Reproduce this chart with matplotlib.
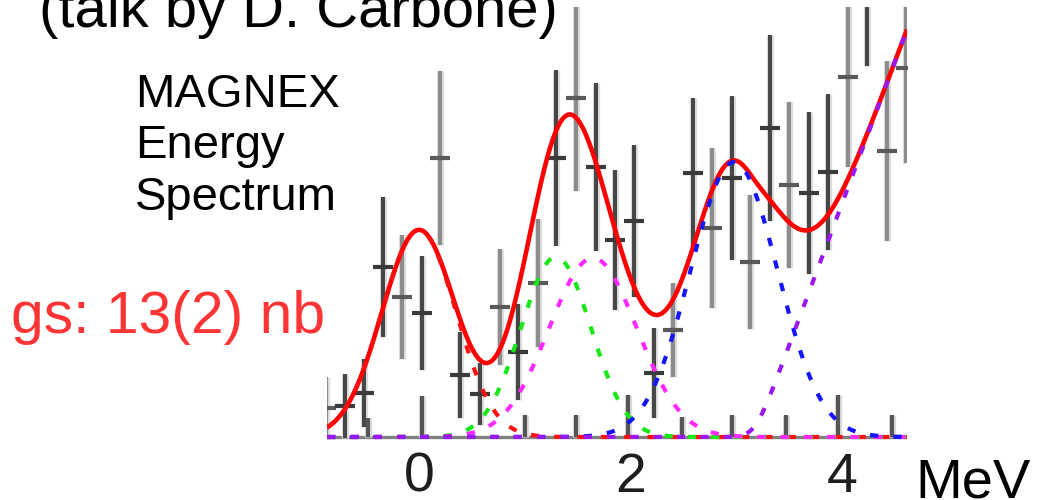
import numpy as np
import matplotlib
matplotlib.use("Agg")
import matplotlib.pyplot as plt

plt.rcParams['font.family'] = ['Liberation Sans', 'DejaVu Sans']

# Measured spectrum (counts per bin) with symmetric errors
energy = [-0.879, -0.700, -0.520, -0.340, -0.161, 0.028, 0.199, 0.388, 0.577,
          0.766, 0.936, 1.125, 1.296, 1.485, 1.674, 1.853, 2.033, 2.222,
          2.402, 2.591, 2.771, 2.960, 3.130, 3.319, 3.499, 3.688, 3.868,
          4.057, 4.236, 4.425, 4.605]
counts = [1.45, 1.55, 2.2, 8.5, 7.0, 6.2, 13.95, 3.1, 2.15,
          6.5, 4.25, 7.7, 13.95, 16.95, 13.5, 9.85, 10.8, 3.2,
          5.35, 13.2, 10.45, 12.95, 8.75, 15.45, 12.6, 12.2, 13.25,
          18.0, 23.4, 14.3, 18.45]
count_err = [1.55, 1.6, 1.68, 3.5, 3.08, 2.83, 4.35, 2.15, 1.55,
             2.88, 2.38, 3.2, 4.38, 4.63, 4.18, 3.5, 3.8, 2.25,
             2.35, 3.75, 4.0, 4.1, 3.33, 4.63, 4.13, 4.05, 3.88,
             4.5, 4.85, 4.5, 4.75]
shade = ['light', 'dark', 'dark', 'dark', 'light', 'dark', 'light', 'dark', 'dark',
         'light', 'dark', 'light', 'dark', 'light', 'dark', 'dark', 'dark', 'dark',
         'light', 'dark', 'light', 'dark', 'light', 'dark', 'light', 'dark', 'dark',
         'light', 'dark', 'light', 'light']

# Empty bins: zero counts with an upper error only
zero_energy = [-0.482, 0.028, 1.002, 1.485, 1.976, 2.487, 2.960, 3.470, 3.962, 4.473]
zero_upper = [0.95, 2.05, 1.1, 1.1, 2.1, 1.0, 1.1, 1.1, 2.1, 1.1]

# Fit: Gaussian peaks plus a continuum opening above threshold
peak_centers = [0.0, 1.295, 1.645, 2.979]
peak_heights = [10.35, 9.0, 8.95, 13.75]
peak_sigmas = [0.35, 0.331, 0.416, 0.411]
peak_colors = ['#ff1010', '#18e818', '#ff28ff', '#1414ff']
continuum_threshold = 3.177
continuum_onset = 0.057
continuum_slope = 14.17
continuum_color = '#9a18f0'

fig = plt.figure(figsize=(10.37, 5.0), dpi=100)
W, H = 1037.0, 500.0
ax = fig.add_axes([327 / W, (H - 443) / H, (907 - 327) / W, (443 - 7) / H])
ax.set_xlim(-0.870, 4.615)
ax.set_ylim(-0.3, 21.5)
for s in ax.spines.values():
    s.set_visible(False)
ax.set_yticks([])
ax.set_xticks([0, 2, 4])
ax.set_xticklabels(['0', '2', '4'])
ax.tick_params(axis='x', length=0, pad=6.4, labelsize=40, labelcolor='#1e1e1e')

# zero line
ax.axhline(0, color='#808080', lw=2.4, zorder=1)

shade_color = {'dark': '#474747', 'light': '#8c8c8c'}
tick_color = {'dark': '#3a3a3a', 'light': '#5a5a5a'}
energy_a = np.array(energy)
counts_a = np.array(counts)
err_a = np.array(count_err)
for kind in ('light', 'dark'):
    m = np.array([s == kind for s in shade])
    # soft halo beneath each bar
    ax.errorbar(energy_a[m], counts_a[m], yerr=err_a[m], fmt='none',
                ecolor='#dcdcdc', elinewidth=5.2, capsize=0, zorder=2)
    ax.errorbar(energy_a[m], counts_a[m], yerr=err_a[m], fmt='none',
                ecolor=shade_color[kind], elinewidth=2.9, capsize=0, zorder=3)
    ax.plot(energy_a[m], counts_a[m], ls='none', marker='_', ms=15,
            mew=3.0, color=tick_color[kind], zorder=4)

zeros = np.zeros(len(zero_energy))
ax.errorbar(zero_energy, zeros, yerr=[zeros, zero_upper], fmt='none',
            ecolor='#d8d8d8', elinewidth=5.2, capsize=0, zorder=2)
ax.errorbar(zero_energy, zeros, yerr=[zeros, zero_upper], fmt='none',
            ecolor='#555555', elinewidth=2.9, capsize=0, zorder=3)

# Fit curves
e = np.linspace(-0.870, 4.615, 800)
components = []
for c, h, s in zip(peak_centers, peak_heights, peak_sigmas):
    components.append(h * np.exp(-0.5 * ((e - c) / s) ** 2))
continuum = continuum_slope * continuum_onset * np.logaddexp(
    0.0, (e - continuum_threshold) / continuum_onset)
total = np.sum(components, axis=0) + continuum

ax.plot(e, total, color='#ff0000', lw=3.3, zorder=5, solid_capstyle='butt')
for i, (comp, col) in enumerate(zip(components, peak_colors)):
    ax.plot(e, comp, color=col, lw=3.0, zorder=6 + i,
            dashes=(2.0, 3.6), dash_capstyle='butt')
ax.plot(e, continuum, color=continuum_color, lw=3.0, zorder=10,
        dashes=(2.0, 3.6), dash_capstyle='butt')

# Annotations
fig.text(39 / W, (H - 27) / H, '(talk by D. Carbone)', fontsize=41.8,
         color='black', va='baseline', ha='left')
for label, base in (('MAGNEX', 107), ('Energy', 158.5), ('Spectrum', 210)):
    fig.text(135 / W, (H - base) / H, label, fontsize=34, color='black',
             va='baseline', ha='left')
fig.text(11 / W, (H - 333) / H, 'gs: 13(2) nb', fontsize=42.3,
         color='#ff3535', va='baseline', ha='left')
fig.text(915 / W, (H - 497) / H, 'MeV', fontsize=40.4, color='black',
         va='baseline', ha='left')

fig.savefig('out.png', dpi=100)
